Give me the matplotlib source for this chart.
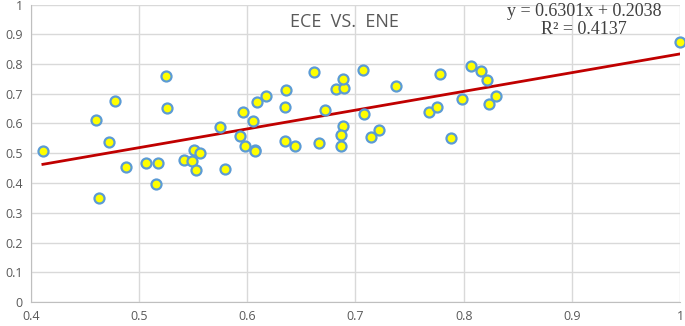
import numpy as np
import matplotlib.pyplot as plt

# ENE (x) vs ECE (y)
ene = [0.411, 0.460, 0.463, 0.472, 0.478, 0.488, 0.506, 0.517, 0.516, 0.525,
       0.526, 0.541, 0.549, 0.551, 0.556, 0.553, 0.575, 0.579, 0.593, 0.596,
       0.598, 0.605, 0.607, 0.607, 0.609, 0.617, 0.635, 0.636, 0.635, 0.644,
       0.662, 0.666, 0.672, 0.682, 0.689, 0.688, 0.688, 0.687, 0.687, 0.707,
       0.708, 0.714, 0.722, 0.737, 0.768, 0.775, 0.778, 0.788, 0.798, 0.807,
       0.816, 0.822, 0.823, 0.830, 1.000]
ece = [0.508, 0.612, 0.350, 0.538, 0.676, 0.454, 0.467, 0.467, 0.397, 0.760,
       0.652, 0.477, 0.474, 0.511, 0.501, 0.444, 0.588, 0.447, 0.558, 0.639,
       0.524, 0.609, 0.511, 0.506, 0.673, 0.692, 0.656, 0.713, 0.542, 0.524,
       0.773, 0.533, 0.644, 0.716, 0.720, 0.750, 0.593, 0.561, 0.525, 0.780,
       0.633, 0.553, 0.578, 0.727, 0.640, 0.656, 0.766, 0.550, 0.684, 0.794,
       0.777, 0.745, 0.667, 0.693, 0.874]

slope = 0.6301
intercept = 0.2038
r2 = 0.4137

fig = plt.figure(figsize=(6.85, 3.26), dpi=100)
ax = fig.add_axes([31/685, 24/326, 649/685, 297.5/326])

ax.set_xlim(0.4, 1.0)
ax.set_ylim(0, 1)
ax.set_xticks(np.arange(0.4, 1.01, 0.1))
ax.set_yticks(np.arange(0, 1.01, 0.1))
ax.set_xticklabels(['0.4', '0.5', '0.6', '0.7', '0.8', '0.9', '1'])
ax.set_yticklabels(['0', '0.1', '0.2', '0.3', '0.4', '0.5', '0.6', '0.7', '0.8', '0.9', '1'])
ax.grid(True, color='#d9d9d9', linewidth=1)
ax.set_axisbelow(True)
for s in ['top', 'right']:
    ax.spines[s].set_visible(False)
for s in ['left', 'bottom']:
    ax.spines[s].set_color('#bfbfbf')
ax.tick_params(length=0, labelsize=9, labelcolor='#595959', pad=6)
for lab in ax.get_xticklabels() + ax.get_yticklabels():
    lab.set_fontfamily('Open Sans')

# trendline
xl = np.array([min(ene), max(ene)])
ax.plot(xl, slope * xl + intercept, color='#c00000', linewidth=2, zorder=2)

ax.scatter(ene, ece, s=52, facecolor='#ffff00', edgecolor='#5b9bd5',
           linewidth=1.6, zorder=3, clip_on=False)

fig.text(344/685, 1 - 22/326, 'ECE  VS.  ENE', ha='center', va='center',
         fontsize=13, color='#595959', family='Open Sans')
fig.text(584/685, 1 - 11/326, 'y = %.4fx + %.4f' % (slope, intercept),
         ha='center', va='center', fontsize=13, color='#404040', family='Liberation Serif')
fig.text(584/685, 1 - 30/326, 'R² = %.4f' % r2,
         ha='center', va='center', fontsize=13, color='#404040', family='Liberation Serif')

plt.savefig('out.png')
